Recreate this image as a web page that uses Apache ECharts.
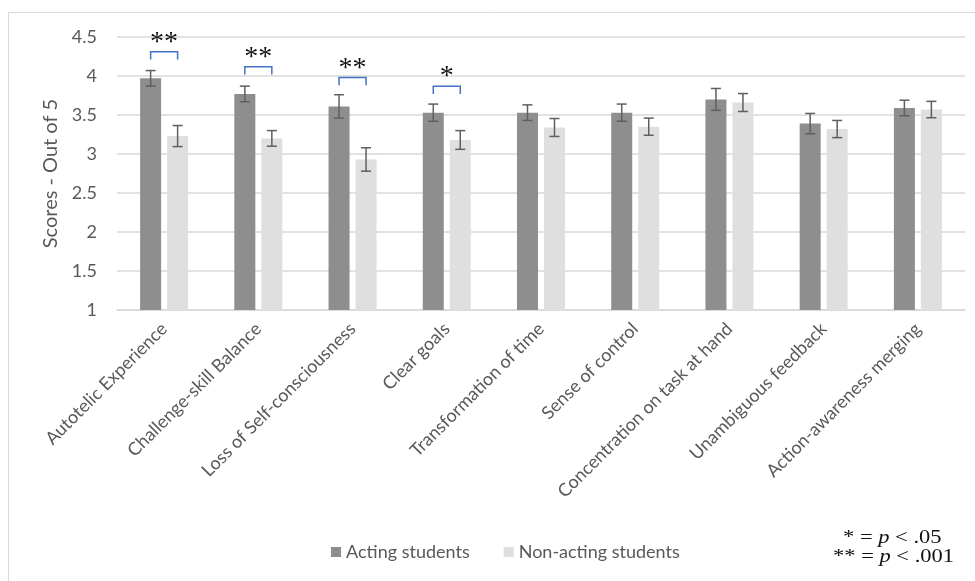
<!DOCTYPE html>
<html>
<head>
<meta charset="utf-8">
<script src="https://cdn.jsdelivr.net/npm/echarts@6/dist/echarts.min.js"></script>
<style>
  html, body { margin: 0; padding: 0; background: #ffffff; }
  #chart { width: 975px; height: 581px; }
</style>
</head>
<body>
<div id="chart"></div>
<script>
// Flow dimensions
const categories = [
  'Autotelic Experience', 'Challenge-skill Balance', 'Loss of Self-consciousness',
  'Clear goals', 'Transformation of time', 'Sense of control',
  'Concentration on task at hand', 'Unambiguous feedback', 'Action-awareness merging'
];
// Mean scores (out of 5)
const actingMeans    = [3.97, 3.77, 3.61, 3.53, 3.53, 3.53, 3.70, 3.39, 3.59];
const nonActingMeans = [3.23, 3.20, 2.93, 3.18, 3.34, 3.35, 3.66, 3.32, 3.57];
// Standard errors
const actingErr    = [0.10, 0.10, 0.15, 0.11, 0.10, 0.11, 0.14, 0.13, 0.10];
const nonActingErr = [0.135, 0.10, 0.15, 0.12, 0.115, 0.11, 0.115, 0.11, 0.105];
// Significance markers: category index, bracket level, stars
const sigIndex  = [0, 1, 2, 3];
const sigLevel  = [4.31, 4.12, 3.98, 3.87];
const sigStars  = ['**', '**', '**', '*'];
// Y axis ticks
const yMin = 1, yMax = 4.5, yStep = 0.5;

const DARK = '#8e8e8e';
const LIGHT = '#dfdfdf';
const TEXT = '#595959';
const FONT = 'Lato';
const BAR_W = 21;
const BAR_GAP = 6;
const HALF = (BAR_W + BAR_GAP) / 2;

function errorBars(means, errs, side) {
  return {
    type: 'custom',
    z: 5,
    silent: true,
    data: means.map((m, i) => [i, m - errs[i], m + errs[i]]),
    renderItem(params, api) {
      const lo = api.coord([api.value(0), api.value(1)]);
      const hi = api.coord([api.value(0), api.value(2)]);
      const x = lo[0] + side * HALF;
      const cap = 5;
      const style = { stroke: '#5f5f5f', lineWidth: 1.5, fill: null };
      return {
        type: 'group',
        children: [
          { type: 'line', shape: { x1: x, y1: lo[1], x2: x, y2: hi[1] }, style },
          { type: 'line', shape: { x1: x - cap, y1: lo[1], x2: x + cap, y2: lo[1] }, style },
          { type: 'line', shape: { x1: x - cap, y1: hi[1], x2: x + cap, y2: hi[1] }, style }
        ]
      };
    }
  };
}

const chart = echarts.init(document.getElementById('chart'), null, { renderer: 'canvas' });

chart.setOption({
  animation: false,
  backgroundColor: '#ffffff',
  grid: { left: 117, right: 10, top: 37, bottom: 271 },
  legend: {
    top: 538,
    left: 326,
    itemWidth: 10,
    itemHeight: 10,
    itemGap: 34,
    icon: 'rect',
    textStyle: { color: TEXT, fontSize: 18, fontFamily: FONT },
    data: ['Acting students', 'Non-acting students']
  },
  xAxis: {
    type: 'category',
    data: categories,
    axisLine: { lineStyle: { color: '#d9d9d9', width: 1.5 } },
    axisTick: { show: false },
    axisLabel: {
      rotate: 45,
      interval: 0,
      margin: 16,
      color: TEXT,
      fontSize: 18,
      fontFamily: FONT
    }
  },
  yAxis: {
    type: 'value',
    min: yMin,
    max: yMax,
    interval: yStep,
    name: 'Scores - Out of 5',
    nameLocation: 'middle',
    nameGap: 53,
    nameTextStyle: { color: TEXT, fontSize: 20, fontFamily: FONT },
    axisLine: { show: false },
    axisTick: { show: false },
    splitLine: { lineStyle: { color: '#d9d9d9', width: 1.5 } },
    axisLabel: { color: TEXT, fontSize: 18, margin: 20, fontFamily: FONT }
  },
  series: [
    {
      name: 'Acting students',
      type: 'bar',
      data: actingMeans,
      barWidth: BAR_W,
      barGap: (BAR_GAP / BAR_W * 100) + '%',
      itemStyle: { color: DARK }
    },
    {
      name: 'Non-acting students',
      type: 'bar',
      data: nonActingMeans,
      barWidth: BAR_W,
      itemStyle: { color: LIGHT }
    },
    errorBars(actingMeans, actingErr, -1),
    errorBars(nonActingMeans, nonActingErr, 1),
    {
      type: 'custom',
      z: 6,
      silent: true,
      data: sigIndex.map((c, k) => [c, sigLevel[k], sigStars[k]]),
      renderItem(params, api) {
        const idx = api.value(0);
        const top = api.coord([idx, api.value(1)]);
        const tip = api.coord([idx, api.value(1) - 0.1]);
        const x1 = top[0] - HALF, x2 = top[0] + HALF;
        return {
          type: 'group',
          children: [
            {
              type: 'polyline',
              shape: { points: [[x1, tip[1]], [x1, top[1]], [x2, top[1]], [x2, tip[1]]] },
              style: { stroke: '#4472c4', lineWidth: 1.5, fill: null }
            },
            {
              type: 'text',
              x: top[0],
              y: top[1] + 5,
              style: {
                text: sigStars[params.dataIndex],
                align: 'center',
                verticalAlign: 'bottom',
                fill: '#111111',
                font: '28px "Liberation Serif"'
              }
            }
          ]
        };
      }
    }
  ],
  graphic: [
    {
      type: 'rect',
      silent: true,
      shape: { x: 8.5, y: 12.5, width: 1000, height: 1000 },
      style: { fill: null, stroke: '#d9d9d9', lineWidth: 1 }
    },
    {
      type: 'text',
      x: 843,
      y: 529,
      scaleX: 1.25,
      style: {
        text: '* = {i|p} < .05',
        fill: '#111111',
        verticalAlign: 'top',
        font: '18px "Liberation Serif"',
        rich: { i: { fontStyle: 'italic', fontFamily: 'Liberation Serif', fontSize: 18 } }
      }
    },
    {
      type: 'text',
      x: 833,
      y: 548,
      scaleX: 1.25,
      style: {
        text: '** = {i|p} < .001',
        fill: '#111111',
        verticalAlign: 'top',
        font: '18px "Liberation Serif"',
        rich: { i: { fontStyle: 'italic', fontFamily: 'Liberation Serif', fontSize: 18 } }
      }
    }
  ]
});
</script>
</body>
</html>
